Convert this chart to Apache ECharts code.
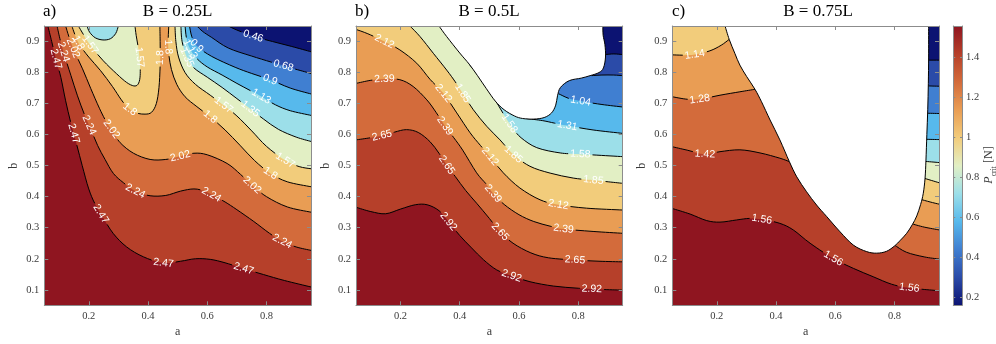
<!DOCTYPE html>
<html><head><meta charset="utf-8">
<script src="https://cdn.jsdelivr.net/npm/echarts@6/dist/echarts.min.js"></script>
<style>html,body{margin:0;padding:0;background:#fff}#c{width:996px;height:344px}</style>
</head><body><div id="c"></div>
<script>
// ================= DATA =================
const A_RANGE = [0.05, 0.95];
const B_RANGE = [0.05, 0.95];
const xTicks = [0.2, 0.4, 0.6, 0.8];
const yTicks = [0.1, 0.2, 0.3, 0.4, 0.5, 0.6, 0.7, 0.8, 0.9];
const cbTicks = [0.2, 0.4, 0.6, 0.8, 1, 1.2, 1.4];
const cbRange = [0.16, 1.556];
const panelTitles = ['B = 0.25L', 'B = 0.5L', 'B = 0.75L'];
const panelTags = ['a)', 'b)', 'c)'];
const bandColors = ['#0c1372','#2b4ba8','#407fd1','#57b9ec','#9cdfe9','#e2efc4','#f2cc7b','#e99d54','#d36b3b','#b6402a','#8f1520'];

// ---- panel a (B = 0.25L) contour lines [a, b] ----
const A_c046 = [[0.671,0.95],[0.7,0.937],[0.755,0.917],[0.82,0.9],[0.885,0.884],[0.95,0.867]];
const A_c068 = [[0.565,0.95],[0.585,0.932],[0.615,0.913],[0.671,0.879],[0.75,0.853],[0.857,0.822],[0.95,0.797]];
const A_c090 = [[0.54,0.95],[0.548,0.915],[0.564,0.886],[0.615,0.852],[0.694,0.817],[0.75,0.797],[0.812,0.777],[0.88,0.75],[0.95,0.731]];
const A_c113 = [[0.525,0.95],[0.53,0.91],[0.542,0.876],[0.565,0.845],[0.6,0.818],[0.65,0.792],[0.7,0.765],[0.745,0.742],[0.782,0.723],[0.83,0.696],[0.88,0.677],[0.95,0.662]];
const A_c135 = [[0.511,0.95],[0.515,0.9],[0.531,0.849],[0.555,0.815],[0.6,0.785],[0.65,0.752],[0.7,0.716],[0.745,0.683],[0.79,0.65],[0.84,0.617],[0.9,0.592],[0.95,0.578]];
const A_c157 = [[0.491,0.95],[0.494,0.9],[0.503,0.85],[0.525,0.8],[0.56,0.762],[0.61,0.727],[0.655,0.695],[0.7,0.66],[0.75,0.612],[0.8,0.562],[0.863,0.517],[0.91,0.497],[0.95,0.49]];
const A_c180 = [[0.47,0.95],[0.468,0.9],[0.47,0.86],[0.479,0.81],[0.497,0.762],[0.525,0.722],[0.565,0.69],[0.61,0.657],[0.66,0.615],[0.71,0.566],[0.76,0.516],[0.813,0.475],[0.87,0.448],[0.95,0.432]];
const A_c202 = [[0.122,0.95],[0.135,0.91],[0.151,0.87],[0.179,0.812],[0.207,0.748],[0.236,0.685],[0.26,0.64],[0.282,0.61],[0.306,0.574],[0.351,0.54],[0.407,0.52],[0.46,0.52],[0.509,0.53],[0.555,0.54],[0.6,0.535],[0.667,0.507],[0.712,0.472],[0.751,0.437],[0.8,0.4],[0.87,0.367],[0.95,0.35]];
const A_c224 = [[0.093,0.95],[0.105,0.9],[0.12,0.85],[0.14,0.79],[0.162,0.725],[0.185,0.666],[0.208,0.615],[0.23,0.565],[0.255,0.52],[0.283,0.475],[0.317,0.445],[0.357,0.418],[0.407,0.403],[0.46,0.404],[0.51,0.418],[0.555,0.425],[0.59,0.418],[0.622,0.402],[0.66,0.383],[0.7,0.358],[0.757,0.32],[0.81,0.282],[0.853,0.256],[0.9,0.238],[0.95,0.227]];
const A_c247 = [[0.062,0.95],[0.075,0.9],[0.09,0.84],[0.106,0.784],[0.122,0.709],[0.139,0.64],[0.156,0.58],[0.178,0.5],[0.2,0.425],[0.222,0.375],[0.25,0.33],[0.283,0.281],[0.328,0.238],[0.385,0.206],[0.452,0.186],[0.51,0.192],[0.56,0.2],[0.61,0.198],[0.66,0.187],[0.723,0.168],[0.79,0.149],[0.86,0.13],[0.95,0.109]];
const A_c180L = [[0.143,0.95],[0.155,0.918],[0.17,0.888],[0.2,0.85],[0.24,0.806],[0.28,0.755],[0.31,0.712],[0.334,0.685],[0.36,0.67],[0.39,0.666],[0.412,0.672],[0.428,0.7],[0.437,0.752],[0.441,0.827],[0.441,0.892],[0.44,0.95]];
const A_p157 = [[0.165,0.95],[0.185,0.918],[0.21,0.882],[0.249,0.838],[0.294,0.796],[0.328,0.768],[0.352,0.757],[0.366,0.762],[0.373,0.785],[0.373,0.83],[0.367,0.88],[0.36,0.92],[0.356,0.95]];
const A_b135 = [[0.194,0.95],[0.203,0.93],[0.222,0.912],[0.248,0.905],[0.273,0.909],[0.291,0.926],[0.3,0.95]];
const A_labels = [[0.755,0.917,'0.46'],[0.857,0.822,'0.68'],[0.812,0.777,'0.9'],[0.564,0.886,'0.9'],[0.782,0.723,'1.13'],[0.542,0.876,'1.13'],[0.745,0.683,'1.35'],[0.531,0.849,'1.35'],[0.655,0.695,'1.57'],[0.863,0.516,'1.57'],[0.205,0.888,'1.57'],[0.362,0.849,'1.57'],[0.163,0.895,'1.8'],[0.334,0.674,'1.8'],[0.432,0.85,'1.8'],[0.462,0.881,'1.8'],[0.61,0.657,'1.8'],[0.813,0.475,'1.8'],[0.143,0.878,'2.02'],[0.278,0.62,'2.02'],[0.509,0.529,'2.02'],[0.751,0.437,'2.02'],[0.103,0.862,'2.24'],[0.21,0.636,'2.24'],[0.357,0.416,'2.24'],[0.61,0.4,'2.24'],[0.853,0.254,'2.24'],[0.072,0.84,'2.47'],[0.154,0.604,'2.47'],[0.244,0.346,'2.47'],[0.452,0.186,'2.47'],[0.723,0.168,'2.47']];

// ---- panel b (B = 0.5L) ----
const B_c050 = [[0.891,0.858],[0.92,0.86],[0.95,0.858]];
const B_c077 = [[0.845,0.79],[0.88,0.792],[0.92,0.792],[0.95,0.79]];
const B_c104 = [[0.733,0.732],[0.77,0.716],[0.808,0.708],[0.88,0.697],[0.95,0.689]];
const B_c131 = [[0.625,0.652],[0.68,0.645],[0.72,0.637],[0.763,0.629],[0.85,0.615],[0.95,0.604]];
const B_c158 = [[0.432,0.827],[0.455,0.8],[0.48,0.77],[0.505,0.735],[0.53,0.695],[0.555,0.655],[0.578,0.622],[0.607,0.59],[0.66,0.558],[0.739,0.541],[0.807,0.537],[0.95,0.529]];
const B_c185 = [[0.232,0.95],[0.266,0.916],[0.311,0.862],[0.356,0.808],[0.385,0.77],[0.41,0.733],[0.446,0.68],[0.491,0.627],[0.536,0.583],[0.581,0.536],[0.637,0.498],[0.705,0.476],[0.783,0.46],[0.851,0.453],[0.95,0.443]];
const B_c212 = [[0.05,0.939],[0.09,0.925],[0.146,0.9],[0.198,0.873],[0.255,0.83],[0.3,0.778],[0.345,0.733],[0.39,0.67],[0.435,0.606],[0.47,0.565],[0.502,0.529],[0.547,0.477],[0.603,0.428],[0.671,0.39],[0.733,0.374],[0.828,0.363],[0.95,0.357]];
const B_c239 = [[0.05,0.765],[0.1,0.775],[0.146,0.779],[0.198,0.777],[0.243,0.755],[0.289,0.712],[0.32,0.672],[0.35,0.628],[0.38,0.59],[0.41,0.55],[0.457,0.477],[0.49,0.44],[0.513,0.41],[0.55,0.375],[0.6,0.342],[0.65,0.32],[0.705,0.305],[0.75,0.296],[0.85,0.288],[0.95,0.282]];
const B_c265 = [[0.05,0.583],[0.1,0.59],[0.14,0.597],[0.18,0.608],[0.22,0.616],[0.26,0.607],[0.3,0.577],[0.33,0.54],[0.356,0.502],[0.385,0.465],[0.42,0.42],[0.457,0.379],[0.5,0.33],[0.536,0.287],[0.58,0.25],[0.64,0.219],[0.7,0.203],[0.789,0.196],[0.87,0.192],[0.95,0.19]];
const B_c292 = [[0.05,0.366],[0.1,0.352],[0.15,0.345],[0.2,0.36],[0.25,0.374],[0.29,0.374],[0.33,0.355],[0.362,0.32],[0.4,0.275],[0.44,0.235],[0.48,0.197],[0.525,0.164],[0.575,0.145],[0.637,0.126],[0.716,0.112],[0.8,0.105],[0.88,0.101],[0.95,0.099]];
const B_nodata = [[0.33,0.95],[0.356,0.916],[0.4,0.863],[0.432,0.827],[0.46,0.79],[0.49,0.748],[0.52,0.708],[0.55,0.68],[0.585,0.66],[0.612,0.652],[0.65,0.65],[0.685,0.655],[0.71,0.67],[0.724,0.695],[0.73,0.725],[0.74,0.752],[0.77,0.774],[0.81,0.782],[0.84,0.79],[0.87,0.8],[0.885,0.815],[0.892,0.85],[0.89,0.89],[0.884,0.92],[0.883,0.95]];
const B_labels = [[0.146,0.897,'2.12'],[0.345,0.733,'2.12'],[0.502,0.529,'2.12'],[0.733,0.373,'2.12'],[0.146,0.779,'2.39'],[0.35,0.628,'2.39'],[0.513,0.41,'2.39'],[0.75,0.293,'2.39'],[0.14,0.59,'2.65'],[0.356,0.502,'2.65'],[0.536,0.287,'2.65'],[0.789,0.196,'2.65'],[0.362,0.32,'2.92'],[0.575,0.148,'2.92'],[0.845,0.1,'2.92'],[0.41,0.733,'1.85'],[0.581,0.534,'1.85'],[0.851,0.454,'1.85'],[0.555,0.628,'1.58'],[0.807,0.54,'1.58'],[0.763,0.629,'1.31'],[0.808,0.708,'1.04']];

// ---- panel c (B = 0.75L) ----
const C_c030 = [[0.91,0.84],[0.95,0.84]];
const C_c044 = [[0.909,0.757],[0.95,0.756]];
const C_c058 = [[0.907,0.669],[0.95,0.668]];
const C_c072 = [[0.904,0.585],[0.95,0.584]];
const C_c086 = [[0.901,0.514],[0.95,0.51]];
const C_c100 = [[0.898,0.46],[0.95,0.445]];
const C_c114r = [[0.886,0.392],[0.92,0.383],[0.95,0.376]];
const C_c128r = [[0.857,0.313],[0.9,0.302],[0.95,0.293]];
const C_c142r = [[0.8,0.244],[0.84,0.221],[0.9,0.206],[0.95,0.199]];
const C_c114 = [[0.05,0.857],[0.09,0.856],[0.126,0.858],[0.177,0.87],[0.215,0.888],[0.242,0.907]];
const C_c128 = [[0.05,0.722],[0.1,0.714],[0.143,0.714],[0.211,0.727],[0.278,0.738],[0.329,0.746]];
const C_c142 = [[0.05,0.561],[0.1,0.55],[0.16,0.537],[0.211,0.545],[0.278,0.551],[0.346,0.541],[0.413,0.524],[0.445,0.513]];
const C_c156 = [[0.05,0.362],[0.11,0.344],[0.166,0.323],[0.211,0.318],[0.267,0.325],[0.31,0.33],[0.352,0.327],[0.413,0.314],[0.458,0.293],[0.515,0.25],[0.593,0.201],[0.661,0.169],[0.728,0.142],[0.79,0.118],[0.85,0.106],[0.95,0.097]];
const C_nodata = [[0.228,0.95],[0.242,0.907],[0.261,0.862],[0.278,0.824],[0.301,0.787],[0.329,0.746],[0.351,0.706],[0.38,0.647],[0.413,0.583],[0.445,0.513],[0.47,0.464],[0.503,0.416],[0.537,0.373],[0.571,0.336],[0.616,0.287],[0.661,0.244],[0.706,0.223],[0.74,0.218],[0.773,0.224],[0.801,0.242],[0.82,0.26],[0.841,0.282],[0.86,0.31],[0.875,0.338],[0.888,0.375],[0.897,0.411],[0.903,0.46],[0.906,0.518],[0.909,0.6],[0.912,0.68],[0.914,0.765],[0.915,0.85],[0.915,0.95]];
const C_labels = [[0.126,0.858,'1.14'],[0.143,0.714,'1.28'],[0.16,0.537,'1.42'],[0.352,0.327,'1.56'],[0.593,0.201,'1.56'],[0.85,0.108,'1.56']];

// ================= STRUCTURE =================
const FULL = ['BL','BR','TR','TL'];
const PANELS = [
  { lines: [['0.46',A_c046],['0.68',A_c068],['0.9',A_c090],['1.13',A_c113],['1.35',A_c135],['1.57',A_c157],['1.8',A_c180],['2.02',A_c202],['2.24',A_c224],['2.47',A_c247],['1.8',A_c180L],['1.57',A_p157],['1.35',A_b135]],
    fills: [[0,[],FULL],[1,[A_c046],['BR','BL','TL']],[2,[A_c068],['BR','BL','TL']],[3,[A_c090],['BR','BL','TL']],[4,[A_c113],['BR','BL','TL']],[5,[A_c135],['BR','BL','TL']],[6,[A_c157],['BR','BL','TL']],[7,[A_c180],['BR','BL','TL']],[8,[A_c202],['BR','BL','TL']],[9,[A_c224],['BR','BL','TL']],[10,[A_c247],['BR','BL','TL']],[6,[A_c180L],[]],[5,[A_p157],[]],[4,[A_b135],[]]],
    labels: A_labels, nodata: null },
  { lines: [['0.5',B_c050],['0.77',B_c077],['1.04',B_c104],['1.31',B_c131],['1.58',B_c158],['1.85',B_c185],['2.12',B_c212],['2.39',B_c239],['2.65',B_c265],['2.92',B_c292]],
    fills: [[0,[],FULL],[1,[B_c050],['BR','BL','TL','TM']],[2,[B_c077],['BR','BL','TL','TM']],[3,[B_c104],['BR','BL','TL','TM']],[4,[B_c131],['BR','BL','TL','TM']],[5,[B_c158],['BR','BL','TL','TM']],[6,[B_c185],['BR','BL','TL']],[7,[B_c212],['BR','BL']],[8,[B_c239],['BR','BL']],[9,[B_c265],['BR','BL']],[10,[B_c292],['BR','BL']]],
    labels: B_labels, nodata: B_nodata },
  { lines: [['1.56',C_c156],['1.42',C_c142],['1.42',C_c142r],['1.28',C_c128],['1.28',C_c128r],['1.14',C_c114],['1.14',C_c114r],['1',C_c100],['0.86',C_c086],['0.72',C_c072],['0.58',C_c058],['0.44',C_c044],['0.3',C_c030]],
    fills: [[0,[],FULL],[1,[C_c030],['BR','BL','TL','TM']],[2,[C_c044],['BR','BL','TL','TM']],[3,[C_c058],['BR','BL','TL','TM']],[4,[C_c072],['BR','BL','TL','TM']],[5,[C_c086],['BR','BL','TL','TM']],[6,[C_c100],['BR','BL','TL','TM']],[7,[C_c114,C_c114r],['BR','BL']],[8,[C_c128,C_c128r],['BR','BL']],[9,[C_c142,C_c142r],['BR','BL']],[10,[C_c156],['BR','BL']]],
    labels: C_labels, nodata: C_nodata }
];

// ================= RENDER HELPERS =================
const SERIF = '"Liberation Serif", "DejaVu Serif", serif';
const SANS = '"Liberation Sans", Arial, sans-serif';
const TXT = '#3a3a3a', FRAME = '#8c8c8c';
const LABEL_FS = 10.5;
const LINE_W = 1;
const _ctx = document.createElement('canvas').getContext('2d');
function textW(t){ _ctx.font = LABEL_FS + 'px "Liberation Sans"'; return _ctx.measureText(t).width; }

function bez(P){
  const segs = [];
  for (let i = 0; i < P.length - 1; i++) {
    const p0 = P[i-1] || P[i], p1 = P[i], p2 = P[i+1], p3 = P[i+2] || P[i+1];
    segs.push([p1, [p1[0]+(p2[0]-p0[0])/6, p1[1]+(p2[1]-p0[1])/6], [p2[0]-(p3[0]-p1[0])/6, p2[1]-(p3[1]-p1[1])/6], p2]);
  }
  return segs;
}
function pathOf(P, move){
  let d = (move ? 'M' : 'L') + P[0][0] + ' ' + P[0][1];
  for (const s of bez(P)) d += ' C' + s[1][0] + ' ' + s[1][1] + ' ' + s[2][0] + ' ' + s[2][1] + ' ' + s[3][0] + ' ' + s[3][1];
  return d;
}
function sample(P){
  const out = [[P[0][0], P[0][1], 0]]; let L = 0;
  for (const s of bez(P)) {
    for (let k = 1; k <= 16; k++) {
      const t = k/16, u = 1-t;
      const x = u*u*u*s[0][0] + 3*u*u*t*s[1][0] + 3*u*t*t*s[2][0] + t*t*t*s[3][0];
      const y = u*u*u*s[0][1] + 3*u*u*t*s[1][1] + 3*u*t*t*s[2][1] + t*t*t*s[3][1];
      const q = out[out.length-1]; L += Math.hypot(x-q[0], y-q[1]); out.push([x, y, L]);
    }
  }
  return out;
}
function geom(P, api){
  const cs = P.lines.map(([lv, pts]) => { const px = pts.map(p => api.coord(p)); return {lv, P: px, S: sample(px)}; });
  const labs = P.labels.map(([a, b, t]) => {
    const q = api.coord([a, b]); let best = null;
    cs.forEach((c, ci) => { if (c.lv !== t) return; c.S.forEach((s, si) => { const d = (s[0]-q[0])**2 + (s[1]-q[1])**2; if (!best || d < best.d) best = {d, ci, si}; }); });
    const S = cs[best.ci].S, i0 = Math.max(0, best.si-4), i1 = Math.min(S.length-1, best.si+4);
    let ang = Math.atan2(-(S[i1][1]-S[i0][1]), S[i1][0]-S[i0][0]);
    if (ang > Math.PI/2) ang -= Math.PI; if (ang < -Math.PI/2) ang += Math.PI;
    return {t, ci: best.ci, x: S[best.si][0], y: S[best.si][1], s: S[best.si][2], ang, w: textW(t)};
  });
  return {cs, labs};
}
function cornerPt(P, c){
  if (c === 'BL') return [A_RANGE[0], B_RANGE[0]];
  if (c === 'BR') return [A_RANGE[1], B_RANGE[0]];
  if (c === 'TR') return [A_RANGE[1], B_RANGE[1]];
  if (c === 'TL') return [A_RANGE[0], B_RANGE[1]];
  const W = P.nodata; return [(W[0][0] + W[W.length-1][0]) / 2, B_RANGE[1]];
}

const series = [];
PANELS.forEach((P, pi) => {
  const ax = {xAxisIndex: 2*pi, yAxisIndex: 2*pi, coordinateSystem: 'cartesian2d', clip: true, silent: true, type: 'custom'};
  series.push(Object.assign({}, ax, { z: 1, data: P.fills.map(() => [0.5, 0.5]),
    renderItem(params, api){
      const [ci, parts, corners] = P.fills[params.dataIndex];
      let d = '';
      parts.forEach((pts, k) => { d += pathOf(pts.map(p => api.coord(p)), k === 0) + ' '; });
      corners.forEach((c, k) => { const q = api.coord(cornerPt(P, c)); d += ((parts.length === 0 && k === 0) ? 'M' : 'L') + q[0] + ' ' + q[1] + ' '; });
      d += 'Z';
      return {type: 'path', shape: {pathData: d}, style: {fill: bandColors[ci], stroke: null}};
    }}));
  series.push(Object.assign({}, ax, { z: 2, data: P.lines.map(l => l[1][0]),
    renderItem(params, api){
      const g = geom(P, api), c = g.cs[params.dataIndex];
      const labs = g.labs.filter(l => l.ci === params.dataIndex).sort((a, b) => a.s - b.s);
      let dash = null;
      if (labs.length) {
        dash = []; let pos = 0; const L = c.S[c.S.length-1][2];
        labs.forEach(l => { const gp = l.w + 4; const st = Math.max(pos, l.s - gp/2); dash.push(st - pos, gp); pos = st + gp; });
        dash.push(Math.max(0, L - pos) + 50, 0.001);
      }
      return {type: 'path', shape: {pathData: pathOf(c.P, true)}, style: {fill: 'none', stroke: '#000', lineWidth: LINE_W, lineDash: dash}};
    }}));
  if (P.nodata) {
    series.push(Object.assign({}, ax, { z: 3, data: [P.nodata[0]],
      renderItem(params, api){
        const px = P.nodata.map(p => api.coord(p));
        return {type: 'group', children: [
          {type: 'path', shape: {pathData: pathOf(px, true) + ' Z'}, style: {fill: '#ffffff', stroke: null}},
          {type: 'path', shape: {pathData: pathOf(px, true)}, style: {fill: 'none', stroke: '#000', lineWidth: LINE_W}}
        ]};
      }}));
  }
  series.push(Object.assign({}, ax, { z: 5, data: P.labels.map(l => [l[0], l[1]]),
    renderItem(params, api){
      const l = geom(P, api).labs[params.dataIndex];
      return {type: 'text', x: l.x, y: l.y, rotation: l.ang,
        style: {text: l.t, fill: '#ffffff', fontSize: LABEL_FS, fontFamily: SANS, align: 'center', verticalAlign: 'middle', textAlign: 'center', textVerticalAlign: 'middle'}};
    }}));
});
// colorbar
series.push({type: 'custom', coordinateSystem: 'cartesian2d', xAxisIndex: 6, yAxisIndex: 6, silent: true, z: 1, data: [[0.5, 0.8]],
  renderItem(params, api){
    const p0 = api.coord([0, cbRange[1]]), p1 = api.coord([1, cbRange[0]]);
    return {type: 'rect', shape: {x: p0[0], y: p0[1], width: p1[0]-p0[0], height: p1[1]-p0[1]},
      style: {fill: new echarts.graphic.LinearGradient(0, 1, 0, 0, bandColors.map((c, i) => ({offset: i/(bandColors.length-1), color: c})))}};
  }});

const GRIDS = [
  {left: 44.3, top: 26, width: 266.7, height: 279.3},
  {left: 356, top: 26, width: 266.7, height: 279.3},
  {left: 672.3, top: 26, width: 266.7, height: 279.3},
  {left: 953.3, top: 26, width: 8.7, height: 279.3}
];
const fmt = v => String(+(+v).toFixed(2));
const xAxes = [], yAxes = [];
for (let i = 0; i < 3; i++) {
  const common = {gridIndex: i, type: 'value', min: A_RANGE[0], max: A_RANGE[1], z: 10, splitLine: {show: false},
    axisLine: {show: true, onZero: false, lineStyle: {color: FRAME, width: 1}},
    axisTick: {show: true, inside: true, length: 4, customValues: xTicks, lineStyle: {color: FRAME}}};
  xAxes.push(Object.assign({}, common, {position: 'bottom',
    axisLabel: {show: true, customValues: xTicks, formatter: fmt, color: TXT, fontFamily: SERIF, fontSize: 10.5, margin: 5},
    name: 'a', nameLocation: 'middle', nameGap: 19, nameTextStyle: {color: TXT, fontFamily: SERIF, fontSize: 12}}));
  xAxes.push(Object.assign({}, common, {position: 'top', axisLabel: {show: false}}));
  const ycommon = {gridIndex: i, type: 'value', min: B_RANGE[0], max: B_RANGE[1], z: 10, splitLine: {show: false},
    axisLine: {show: true, onZero: false, lineStyle: {color: FRAME, width: 1}},
    axisTick: {show: true, inside: true, length: 4, customValues: yTicks, lineStyle: {color: FRAME}}};
  yAxes.push(Object.assign({}, ycommon, {position: 'left',
    axisLabel: {show: true, customValues: yTicks, formatter: fmt, color: TXT, fontFamily: SERIF, fontSize: 10.5, margin: 5},
    name: 'b', nameLocation: 'middle', nameGap: 24, nameTextStyle: {color: TXT, fontFamily: SERIF, fontSize: 12}}));
  yAxes.push(Object.assign({}, ycommon, {position: 'right', axisLabel: {show: false}}));
}
xAxes.push({gridIndex: 3, type: 'value', min: 0, max: 1, position: 'bottom', z: 10, axisLine: {show: true, onZero: false, lineStyle: {color: FRAME}}, axisTick: {show: false}, axisLabel: {show: false}, splitLine: {show: false}});
xAxes.push({gridIndex: 3, type: 'value', min: 0, max: 1, position: 'top', z: 10, axisLine: {show: true, onZero: false, lineStyle: {color: FRAME}}, axisTick: {show: false}, axisLabel: {show: false}, splitLine: {show: false}});
yAxes.push({gridIndex: 3, type: 'value', min: cbRange[0], max: cbRange[1], position: 'left', z: 10, axisLine: {show: true, onZero: false, lineStyle: {color: FRAME}}, axisTick: {show: true, inside: true, length: 2, customValues: cbTicks, lineStyle: {color: FRAME}}, axisLabel: {show: false}, splitLine: {show: false}});
yAxes.push({gridIndex: 3, type: 'value', min: cbRange[0], max: cbRange[1], position: 'right', z: 10, axisLine: {show: true, onZero: false, lineStyle: {color: FRAME}}, axisTick: {show: true, inside: true, length: 2, customValues: cbTicks, lineStyle: {color: FRAME}}, axisLabel: {show: true, customValues: cbTicks, formatter: fmt, color: TXT, fontFamily: SERIF, fontSize: 10.5, margin: 4}, splitLine: {show: false}});

const titleX = [177.6, 489, 818];
const tagX = [43, 355, 672];
const graphic = [];
for (let i = 0; i < 3; i++) {
  graphic.push({type: 'text', x: titleX[i], y: 12, style: {text: panelTitles[i], fill: '#000', fontSize: 17, fontFamily: SERIF, align: 'center', verticalAlign: 'middle', textAlign: 'center', textVerticalAlign: 'middle'}});
  graphic.push({type: 'text', x: tagX[i], y: 12, style: {text: panelTags[i], fill: '#000', fontSize: 17, fontFamily: SERIF, align: 'left', verticalAlign: 'middle', textAlign: 'left', textVerticalAlign: 'middle'}});
}
graphic.push({type: 'text', x: 989, y: 165, rotation: Math.PI/2, style: {
  text: '{p|P}{s|crit} {n|[N]}', fill: TXT, align: 'center', verticalAlign: 'middle', textAlign: 'center', textVerticalAlign: 'middle',
  rich: {p: {fontFamily: SERIF, fontStyle: 'italic', fontSize: 12, lineHeight: 18, verticalAlign: 'middle', fill: TXT, color: TXT},
         s: {fontFamily: SERIF, fontSize: 7.5, lineHeight: 18, verticalAlign: 'bottom', fill: TXT, color: TXT},
         n: {fontFamily: SERIF, fontSize: 12, lineHeight: 18, verticalAlign: 'middle', fill: TXT, color: TXT}}}});

const chart = echarts.init(document.getElementById('c'), null, {renderer: 'canvas', width: 996, height: 344});
chart.setOption({
  animation: false,
  backgroundColor: '#ffffff',
  grid: GRIDS.map(g => Object.assign({containLabel: false, outerBoundsMode: 'none'}, g)),
  xAxis: xAxes, yAxis: yAxes, series: series, graphic: graphic
});
</script>
</body></html>
